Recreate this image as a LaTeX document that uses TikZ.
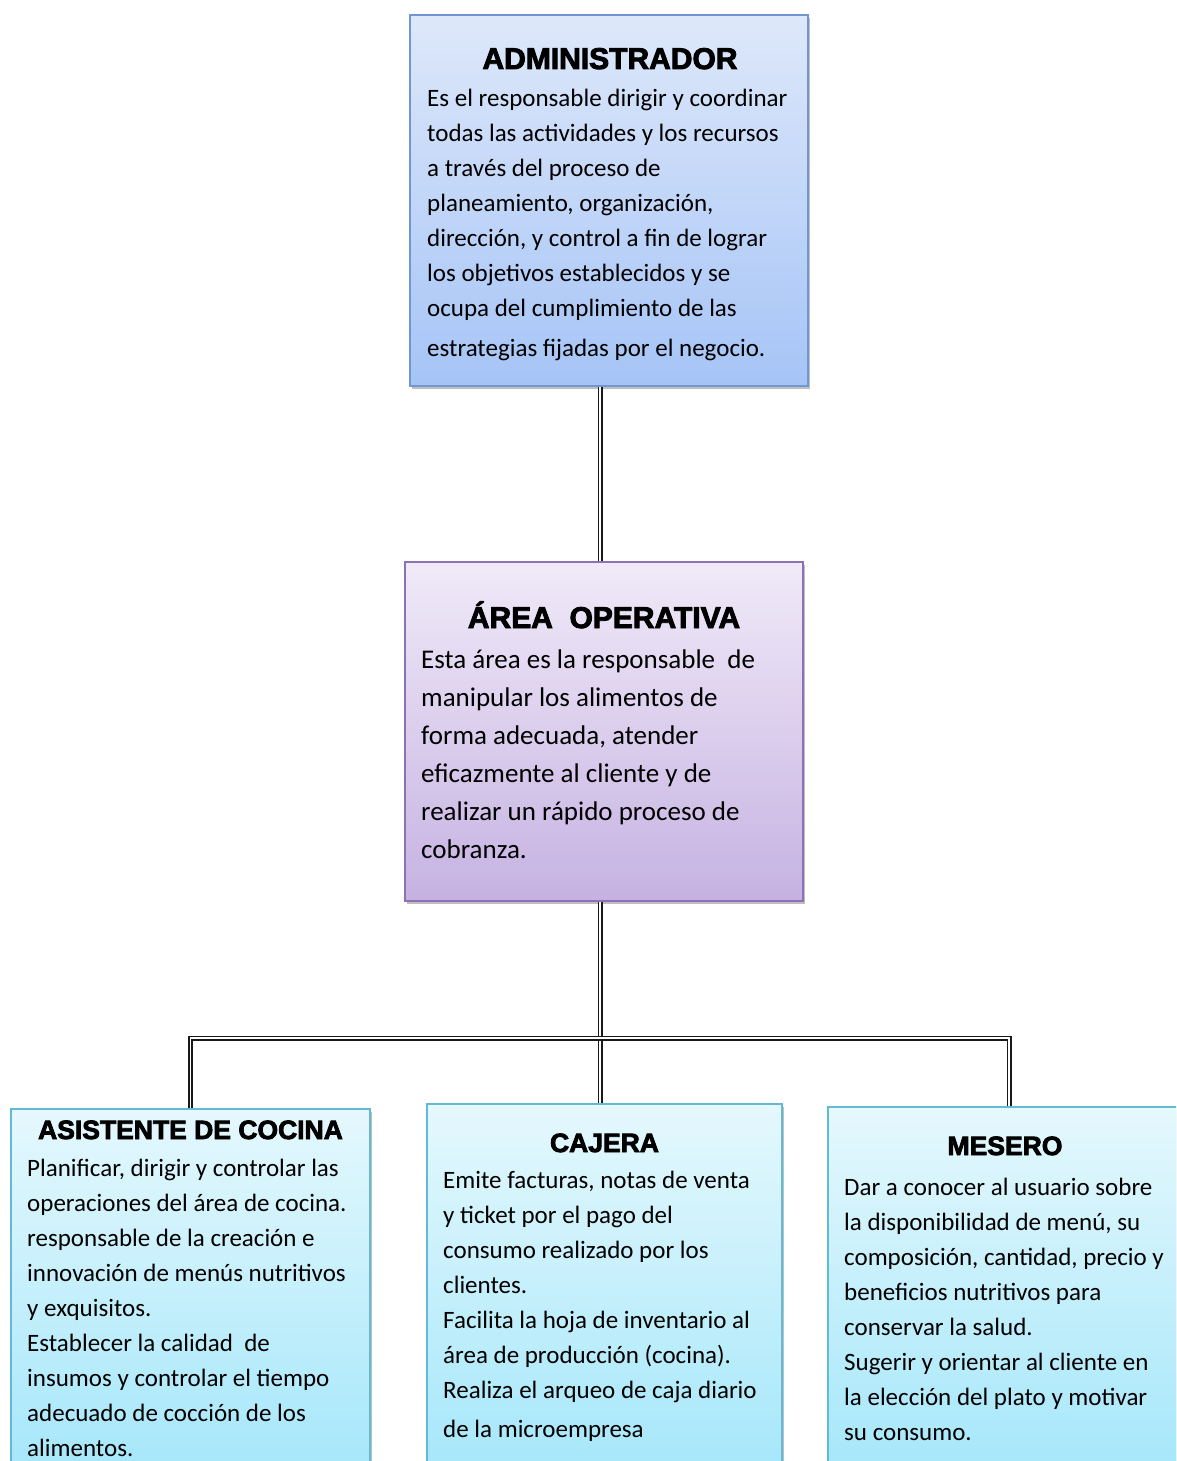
\documentclass[tikz,border=0pt]{standalone}
\usepackage{fontspec}
\setmainfont{Carlito}
\newfontfamily\headfont{Liberation Sans}[BoldFeatures={FakeBold=3}]
\usetikzlibrary{calc,shadows}

\definecolor{admtop}{HTML}{DEE8FA}
\definecolor{admbot}{HTML}{A5C4F6}
\definecolor{admline}{HTML}{7097D2}
\definecolor{optop}{HTML}{F0EAF8}
\definecolor{opbot}{HTML}{C6B2E2}
\definecolor{opline}{HTML}{8C72B2}
\definecolor{cytop}{HTML}{E5F8FD}
\definecolor{cybot}{HTML}{A2E6FA}
\definecolor{cyline}{HTML}{62BAD4}

\tikzset{
  box/.style={rectangle, inner sep=0pt, line width=1.3pt,
    drop shadow={shadow xshift=2pt, shadow yshift=-3pt, opacity=0.5}},
  adminbox/.style={box, draw=admline, top color=admtop, bottom color=admbot},
  opbox/.style={box, draw=opline, top color=optop, bottom color=opbot},
  staffbox/.style={box, draw=cyline, top color=cytop, bottom color=cybot},
  title/.style={anchor=base, inner sep=0pt, font=\headfont\bfseries\fontsize{30}{36}\selectfont},
  smalltitle/.style={title, font=\headfont\bfseries\fontsize{26.5}{32}\selectfont},
  % base of a multi-line node = baseline of its last line
  body/.style={anchor=base west, inner sep=0pt, align=left, font=\fontsize{25}{35}\selectfont},
  conn/.style={draw=black!90, line width=1.7pt, double=white, double distance=1.6pt}
}

\begin{document}
\begin{tikzpicture}[x=1pt, y=-1pt]
      \useasboundingbox (0,0) rectangle (1176,1461);
      \clip (0,0) rectangle (1176,1461);
      \coordinate (bus) at (600,1038);
      % boxes
      \node[adminbox, minimum width=398pt, minimum height=371pt] (admin) at (609,200.5) {};
      \node[opbox, minimum width=398pt, minimum height=339pt] (oper) at (604,731.5) {};
      \node[staffbox, minimum width=359pt, minimum height=381pt] (cocina) at (190.5,1299.5) {};
      \node[staffbox, minimum width=355pt, minimum height=386pt] (cajera) at (604.5,1297) {};
      \node[staffbox, minimum width=362pt, minimum height=383pt] (mesero) at (1009,1298.5) {};
      % connectors
      \path[conn] (admin.south -| bus) -- (oper.north -| bus);
      \path[conn] (oper.south -| bus) -- (cajera.north -| bus);
      \path[conn] (cocina.north) |- (bus) -| (mesero.north);
      % texts
      \node[title] (admin-t) at (610,69) {ADMINISTRADOR};
      \node[body] (admin-b) at (427,356) {Es el responsable dirigir y coordinar\\
        todas las actividades y los recursos\\ a través del proceso de\\
        planeamiento, organización,\\ dirección, y control a fin de lograr\\
        los objetivos establecidos y se\\ ocupa del cumplimiento de las\\[5pt]
        estrategias fijadas por el negocio.};
      \node[title] (oper-t) at (604,628) {ÁREA~~OPERATIVA};
      \node[body, font=\fontsize{27}{38}\selectfont] (oper-b) at (421,858) {Esta área es la responsable~~de\\
        manipular los alimentos de\\ forma adecuada, atender\\
        eficazmente al cliente y de\\ realizar un rápido proceso de\\ cobranza.};
      \node[smalltitle] (cocina-t) at (190.5,1139) {ASISTENTE DE COCINA};
      \node[body] (cocina-b) at (27,1456) {Planificar, dirigir y controlar las\\
        operaciones del área de cocina.\\ responsable de la creación e\\
        innovación de menús nutritivos\\ y exquisitos.\\ Establecer la calidad~~de\\
        insumos y controlar el tiempo\\ adecuado de cocción de los\\ alimentos.};
      \node[smalltitle] (cajera-t) at (604.5,1152) {CAJERA};
      \node[body] (cajera-b) at (443,1437) {Emite facturas, notas de venta\\
        y ticket por el pago del\\ consumo realizado por los\\ clientes.\\
        Facilita la hoja de inventario al\\ área de producción (cocina).\\
        Realiza el arqueo de caja diario\\[4pt] de la microempresa};
      \node[smalltitle] (mesero-t) at (1005,1155) {MESERO};
      \node[body] (mesero-b) at (844,1440) {Dar a conocer al usuario sobre\\
        la disponibilidad de menú, su\\ composición, cantidad, precio y\\
        beneficios nutritivos para\\ conservar la salud.\\
        Sugerir y orientar al cliente en\\ la elección del plato y motivar\\ su consumo.};
    \end{tikzpicture}
\end{document}
